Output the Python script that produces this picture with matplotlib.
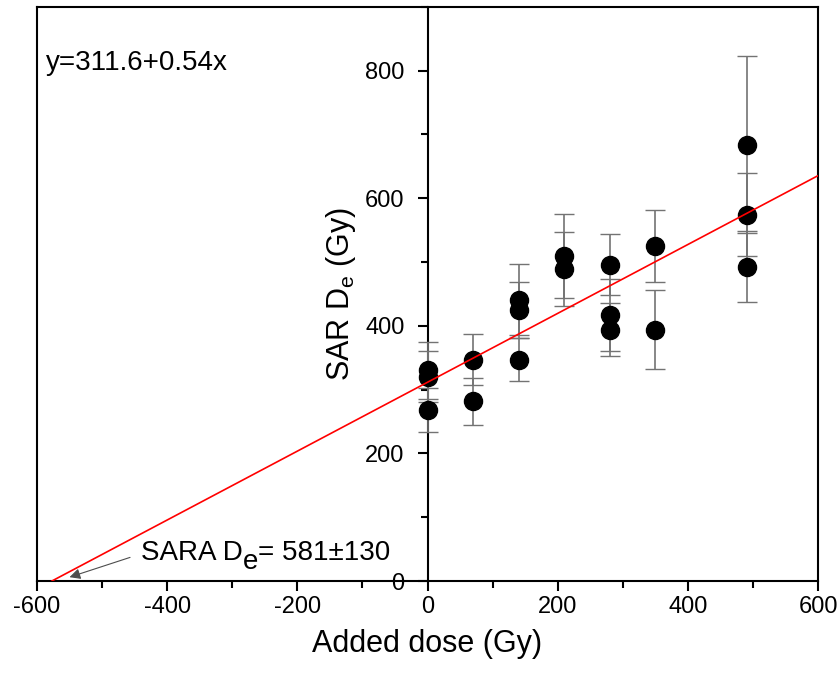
import numpy as np
from matplotlib import pyplot as plt
from matplotlib.ticker import MultipleLocator
from matplotlib.transforms import offset_copy

plt.rcParams['font.family'] = ['Liberation Sans', 'DejaVu Sans']
plt.rcParams['axes.unicode_minus'] = False

# added dose (Gy), SAR De (Gy) and its error
dose = [0, 0, 0, 70, 70, 140, 140, 140, 210, 210, 280, 280, 280, 350, 350, 490, 490, 490]
de = [330, 320, 268, 347, 282, 441, 425, 347, 510, 489, 496, 417, 394, 525, 394, 684, 574, 493]
de_err = [44, 40, 34, 40, 37, 56, 44, 34, 66, 58, 48, 56, 42, 57, 62, 139, 65, 56]

intercept = 311.6
slope = 0.54

fig = plt.figure(figsize=(8.4, 6.77), dpi=100)
ax = fig.add_axes([0.044, 0.1418, 0.930, 0.848])

ax.errorbar(dose, de, yerr=de_err, fmt='o', color='k', markersize=13,
            ecolor='0.45', elinewidth=1.2, capsize=7, capthick=1.0, zorder=3)

x_fit = np.array([-intercept / slope, 600])
ax.plot(x_fit, intercept + slope * x_fit, color='r', linewidth=1.2, zorder=4)

ax.set(xlim=[-600, 600], ylim=[0, 900])
ax.spines['left'].set_position(('data', 0))
for s in ax.spines.values():
    s.set_linewidth(1.5)
ax.axvline(-600, color='k', linewidth=1.5, clip_on=False)

ax.xaxis.set_major_locator(MultipleLocator(200))
ax.xaxis.set_minor_locator(MultipleLocator(100))
ax.yaxis.set_minor_locator(MultipleLocator(100))
ax.set_yticks([0, 200, 400, 600, 800])
ax.tick_params(which='major', direction='out', length=7.5, width=1.5, labelsize=17)
ax.tick_params(axis='y', which='major', pad=9)
ax.tick_params(which='minor', direction='out', length=5, width=1.5)

ax.set_xlabel('Added dose (Gy)', fontsize=22, labelpad=8)
ax.set_ylabel('SAR D$_\\mathregular{e}$ (Gy)', fontsize=22, labelpad=5)

ax.text(-586, 812, 'y=311.6+0.54x', fontsize=20, va='center')

# SARA label with a full size, lowered subscript
fig.canvas.draw()
r = fig.canvas.get_renderer()
t1 = ax.text(-440, 33, 'SARA D', fontsize=20, va='baseline')
w1 = t1.get_window_extent(r).width
t2 = ax.text(-440, 33, 'e', fontsize=20, va='baseline',
             transform=offset_copy(ax.transData, fig=fig, x=w1, y=-9, units='dots'))
w2 = t2.get_window_extent(r).width
ax.text(-440, 33, '= 581\u00b1130', fontsize=20, va='baseline',
        transform=offset_copy(ax.transData, fig=fig, x=w1 + w2, y=0, units='dots'))
ax.annotate('', xy=(-550, 6), xytext=(-457, 37),
            arrowprops=dict(arrowstyle='-|>', color='0.3', linewidth=0.8,
                            shrinkA=0, shrinkB=0, mutation_scale=16))

fig.savefig('out.png', dpi=100)
